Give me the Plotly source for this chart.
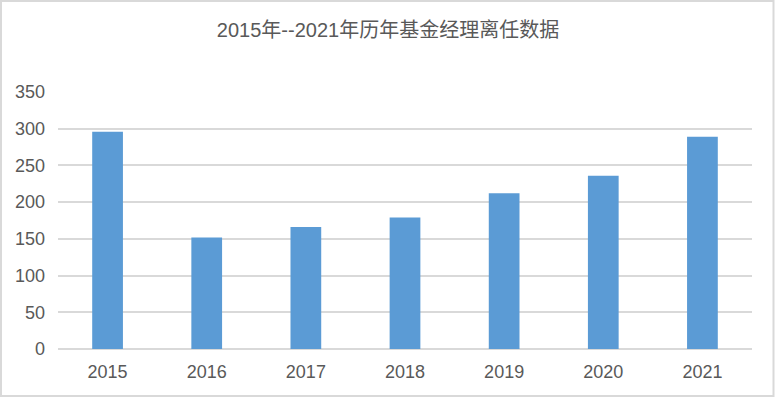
import plotly.graph_objects as go

years = ["2015", "2016", "2017", "2018", "2019", "2020", "2021"]
departures = [296, 152, 166, 179, 212, 236, 289]
y_ticks = [0, 50, 100, 150, 200, 250, 300, 350]
title_text = "2015年--2021年历年基金经理离任数据"

W, H = 776, 400
L, R, T, B = 58, 24, 92, 51
pw, ph = W - L - R, H - T - B

def px_x(p):
    return (p - L) / pw

def px_y(p):
    return (H - B - p) / ph

font_family = "Liberation Sans, Arial, Noto Sans CJK SC, sans-serif"

fig = go.Figure(
    go.Bar(
        x=years,
        y=departures,
        marker=dict(color="#5B9BD5", line=dict(width=0)),
        width=0.31,
        hoverinfo="x+y",
    )
)

fig.update_layout(
    width=W,
    height=H,
    margin=dict(l=L, r=R, t=T, b=B, pad=0, autoexpand=False),
    paper_bgcolor="white",
    plot_bgcolor="white",
    showlegend=False,
    title=dict(
        text=title_text,
        x=0.5,
        xanchor="center",
        y=1 - 30 / H,
        yanchor="middle",
        font=dict(family="Liberation Sans, Noto Sans CJK SC, sans-serif", size=20, color="#595959"),
    ),
    font=dict(family=font_family, size=17, color="#595959"),
    xaxis=dict(
        type="category",
        showgrid=False,
        showline=False,
        ticks="",
        tickfont=dict(size=18, color="#595959"),
        ticklabelstandoff=10,
        zeroline=False,
        automargin=False,
    ),
    yaxis=dict(
        range=[0, 350],
        tickvals=y_ticks,
        showgrid=True,
        gridcolor="#D9D9D9",
        gridwidth=1.5,
        zeroline=True,
        zerolinecolor="#D9D9D9",
        zerolinewidth=1.5,
        showline=False,
        ticks="",
        ticklabelstandoff=12,
        tickfont=dict(size=18, color="#595959"),
        automargin=False,
    ),
    shapes=[
        dict(
            type="rect",
            xref="paper",
            yref="paper",
            x0=px_x(1),
            x1=px_x(773.5),
            y0=px_y(396),
            y1=px_y(1),
            line=dict(color="#D9D9D9", width=2),
            fillcolor="rgba(0,0,0,0)",
            layer="below",
        )
    ],
)

fig.write_html(
    "out.html",
    config={"displayModeBar": False},
    post_script="document.body.style.margin='0';document.body.style.overflow='hidden';",
)
